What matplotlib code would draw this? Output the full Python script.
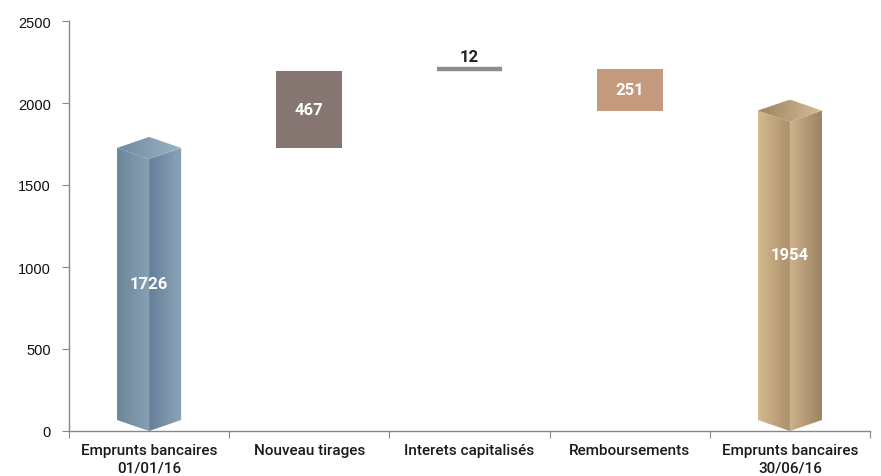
import numpy as np
import matplotlib
matplotlib.use("Agg")
import matplotlib.pyplot as plt
from matplotlib.patches import Polygon, Rectangle
from matplotlib.colors import LinearSegmentedColormap

categories = ["Emprunts bancaires\n01/01/16", "Nouveau tirages", "Interets capitalisés",
              "Remboursements", "Emprunts bancaires\n30/06/16"]
start_value = 1726
changes = [467, 12, -251]
end_value = 1954
yticks = [0, 500, 1000, 1500, 2000, 2500]

fig = plt.figure(figsize=(8.81, 4.77), dpi=100)
ax = fig.add_axes([69/881, 45/477, 801/881, 410/477])

XL, XR = -0.5, 4.5
YB, YT = 0, 2500
d = 67  # depth of prism top in data units
pw = 0.40

def grad_poly(ax, verts, c1, c2):
    poly = Polygon(verts, closed=True, facecolor='none', edgecolor='none')
    ax.add_patch(poly)
    xs = [v[0] for v in verts]; ys = [v[1] for v in verts]
    cmap = LinearSegmentedColormap.from_list('g', [c1, c2])
    g = np.linspace(0, 1, 64).reshape(1, -1)
    im = ax.imshow(g, cmap=cmap, extent=[min(xs), max(xs), min(ys), max(ys)],
                   aspect='auto', interpolation='bilinear', origin='lower', zorder=2)
    im.set_clip_path(poly)

def pillar(ax, xc, V, cols):
    h = pw / 2
    left = [(xc - h, d), (xc, 0), (xc, V - d), (xc - h, V)]
    right = [(xc, 0), (xc + h, d), (xc + h, V), (xc, V - d)]
    top = [(xc - h, V), (xc, V - d), (xc + h, V), (xc, V + d)]
    grad_poly(ax, left, cols[0], cols[1])
    grad_poly(ax, right, cols[2], cols[3])
    grad_poly(ax, top, cols[4], cols[5])

blue = ['#6b8599', '#88a1b5', '#65809a', '#8ba4b8', '#6f8aa0', '#9cb3c6']
gold = ['#d6b98f', '#a98f6b', '#cdb18b', '#9a8260', '#9b8361', '#d8bd94']

pillar(ax, 0, start_value, blue)
pillar(ax, 4, end_value, gold)

lab_font = dict(fontsize=12, fontweight='bold', family='Roboto', zorder=4)

# floating boxes
bw = 0.41
base = start_value
box_colors = ['#857672', '#8c8c8c', '#c49a7e']
for i, ch in enumerate(changes):
    xc = i + 1
    lo, hi = min(base, base + ch), max(base, base + ch)
    if abs(ch) < 50:
        ax.plot([xc - bw/2, xc + bw/2], [hi, hi], color=box_colors[i], lw=3.2,
                solid_capstyle='butt', zorder=3)
        ax.text(xc, hi + 35, f"{abs(ch)}", ha='center', va='bottom',
                color='#222222', **lab_font)
    else:
        ax.add_patch(Rectangle((xc - bw/2, lo), bw, hi - lo, facecolor=box_colors[i],
                               edgecolor='none', zorder=3))
        ax.text(xc, (lo + hi)/2, f"{abs(ch)}", ha='center', va='center',
                color='white', **lab_font)
    base = base + ch

ax.text(0, start_value * 0.52, f"{start_value}", ha='center', va='center',
        color='white', **lab_font)
ax.text(4, end_value * 0.55, f"{end_value}", ha='center', va='center',
        color='white', **lab_font)

ax.set_xlim(XL, XR)
ax.set_ylim(YB, YT)
for s in ['top', 'right']:
    ax.spines[s].set_visible(False)
for s in ['left', 'bottom']:
    ax.spines[s].set_color('#888888')
    ax.spines[s].set_linewidth(1.0)
ax.set_yticks(yticks)
ax.set_yticklabels([str(t) for t in yticks], fontsize=10.5, family='Liberation Sans', color='#111111')
ax.tick_params(axis='y', length=5, color='#888888', pad=8)
ax.set_xticks(np.arange(-0.5, 5, 1.0))
ax.set_xticklabels([])
ax.tick_params(axis='x', length=5, color='#888888')
ax.set_xticks(np.arange(5), minor=True)
ax.set_xticklabels(categories, minor=True, fontsize=11, family='Roboto', fontweight='medium',
                   color='#1a1a1a', linespacing=1.25)
ax.tick_params(axis='x', which='minor', length=0, pad=9)

fig.savefig("out.png", dpi=100, facecolor='white')
